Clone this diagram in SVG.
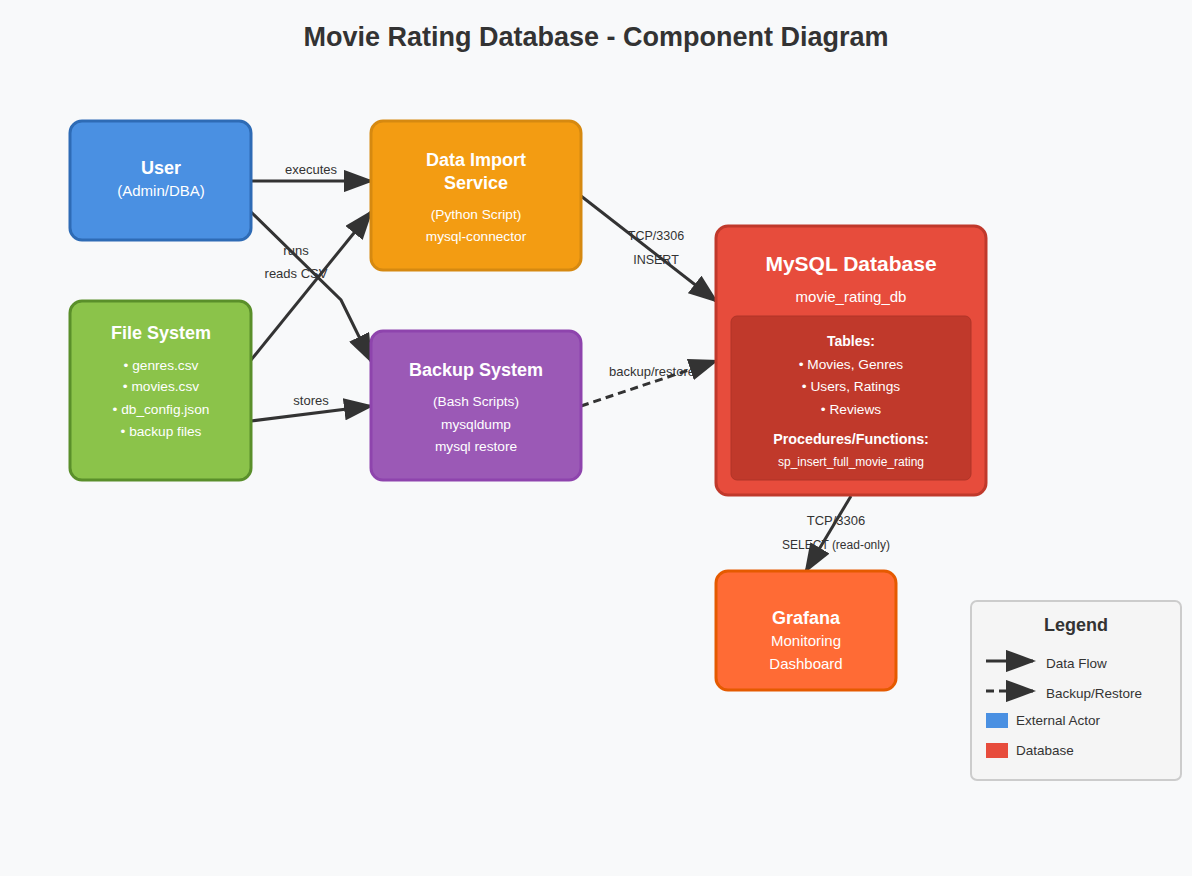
<svg xmlns="http://www.w3.org/2000/svg" width="1192" height="876" viewBox="0 0 1192 876">
<defs>
<style>
text{font-family:"Liberation Sans",Arial,sans-serif;text-anchor:middle;}
.t{font-size:18px;font-weight:bold;fill:#fff;}
.s{font-size:15px;fill:#fff;}
.s13{font-size:13.7px;fill:#fff;}
.lbl{font-size:13px;fill:#333;}
.leg{font-size:13.5px;fill:#333;text-anchor:start;}
.edge{stroke:#333;stroke-width:3;fill:none;}
.dash{stroke-dasharray:8,5;}
</style>
<marker id="arr" viewBox="0 0 10 7.4" markerWidth="10" markerHeight="7.4" refX="9" refY="3.7" orient="auto" markerUnits="strokeWidth">
<path d="M0,0 L10,3.7 L0,7.4 Z" fill="#333"/>
</marker>
</defs>
<rect width="1192" height="876" fill="#f8f9fa"/>
<text x="596" y="46" style="font-size:27px;font-weight:bold;fill:#333">Movie Rating Database - Component Diagram</text>

<g id="connectors">
<text class="lbl" x="311" y="174">executes</text>
<line class="edge" x1="251" y1="181" x2="371" y2="181" marker-end="url(#arr)"/>
<text class="lbl" x="296" y="255">runs</text>
<text class="lbl" x="296" y="278">reads CSV</text>
<polyline class="edge" points="251,212 341,300 371,361" marker-end="url(#arr)"/>
<line class="edge" x1="251" y1="360" x2="371" y2="212" marker-end="url(#arr)"/>
<text class="lbl" x="311" y="405">stores</text>
<line class="edge" x1="251" y1="421" x2="371" y2="406" marker-end="url(#arr)"/>
<text class="lbl" x="656" y="240" style="font-size:12.5px">TCP/3306</text>
<text class="lbl" x="656" y="264" style="font-size:12.5px">INSERT</text>
<line class="edge" x1="581" y1="196" x2="716" y2="301" marker-end="url(#arr)"/>
<text class="lbl" x="652" y="376">backup/restore</text>
<line class="edge dash" x1="581" y1="406" x2="716" y2="361" marker-end="url(#arr)"/>
<text class="lbl" x="836" y="525">TCP/3306</text>
<text class="lbl" x="836" y="549" style="font-size:12px">SELECT (read-only)</text>
<line class="edge" x1="851" y1="496" x2="806" y2="571" marker-end="url(#arr)"/>
</g>

<g id="user">
<rect x="70" y="121" width="181" height="119" rx="12" fill="#4a90e2" stroke="#2e6bb5" stroke-width="3"/>
<text class="t" x="161" y="174">User</text>
<text class="s" x="161" y="196">(Admin/DBA)</text>
</g>

<g id="data-import">
<rect x="371" y="121" width="210" height="149" rx="12" fill="#f39c12" stroke="#d68910" stroke-width="3"/>
<text class="t" x="476" y="166">Data Import</text>
<text class="t" x="476" y="189">Service</text>
<text class="s13" x="476" y="219">(Python Script)</text>
<text class="s13" x="476" y="241">mysql-connector</text>
</g>

<g id="file-system">
<rect x="70" y="301" width="181" height="179" rx="12" fill="#8bc34a" stroke="#5a8f2a" stroke-width="3"/>
<text class="t" x="161" y="339">File System</text>
<text class="s13" x="161" y="370">• genres.csv</text>
<text class="s13" x="161" y="391">• movies.csv</text>
<text class="s13" x="161" y="414">• db_config.json</text>
<text class="s13" x="161" y="436">• backup files</text>
</g>

<g id="backup-system">
<rect x="371" y="331" width="210" height="149" rx="12" fill="#9b59b6" stroke="#8e44ad" stroke-width="3"/>
<text class="t" x="476" y="376">Backup System</text>
<text class="s13" x="476" y="406">(Bash Scripts)</text>
<text class="s13" x="476" y="429">mysqldump</text>
<text class="s13" x="476" y="451">mysql restore</text>
</g>

<g id="mysql">
<rect x="716" y="226" width="270" height="269" rx="12" fill="#e74c3c" stroke="#c0392b" stroke-width="3"/>
<text x="851" y="271" style="font-size:21px;font-weight:bold;fill:#fff">MySQL Database</text>
<text class="s" x="851" y="302">movie_rating_db</text>
<rect x="731" y="316" width="240" height="164" rx="6" fill="#c0392b" stroke="#b03428" stroke-width="1"/>
<text x="851" y="346" style="font-size:14px;font-weight:bold;fill:#fff">Tables:</text>
<text class="s13" x="851" y="369">• Movies, Genres</text>
<text class="s13" x="851" y="391">• Users, Ratings</text>
<text class="s13" x="851" y="414">• Reviews</text>
<text x="851" y="444" style="font-size:14.3px;font-weight:bold;fill:#fff">Procedures/Functions:</text>
<text x="851" y="466" style="font-size:12px;fill:#fff">sp_insert_full_movie_rating</text>
</g>

<g id="grafana">
<rect x="716" y="571" width="180" height="119" rx="12" fill="#ff6b35" stroke="#e55a00" stroke-width="3"/>
<text class="t" x="806" y="624">Grafana</text>
<text class="s" x="806" y="646">Monitoring</text>
<text class="s" x="806" y="669">Dashboard</text>
</g>

<g id="legend">
<rect x="971" y="601" width="210" height="179" rx="6" fill="#f5f5f5" stroke="#ccc" stroke-width="2"/>
<text x="1076" y="631" style="font-size:18px;font-weight:bold;fill:#333">Legend</text>
<line class="edge" x1="986" y1="661" x2="1033" y2="661" marker-end="url(#arr)"/>
<text class="leg" x="1046" y="668">Data Flow</text>
<line class="edge dash" x1="986" y1="691" x2="1033" y2="691" marker-end="url(#arr)"/>
<text class="leg" x="1046" y="698">Backup/Restore</text>
<rect x="986" y="713" width="22" height="15" fill="#4a90e2"/>
<text class="leg" x="1016" y="725">External Actor</text>
<rect x="986" y="743" width="22" height="15" fill="#e74c3c"/>
<text class="leg" x="1016" y="755">Database</text>
</g>
</svg>
